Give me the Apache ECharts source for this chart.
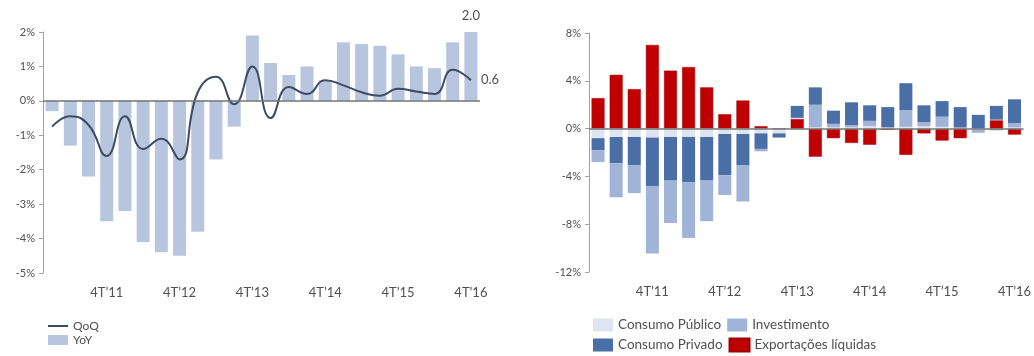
<!DOCTYPE html>
<html>
<head>
<meta charset="utf-8">
<title>PIB - variação e contributos</title>
<script src="https://cdn.jsdelivr.net/npm/echarts@6/dist/echarts.min.js"></script>
<style>
  html, body { margin: 0; padding: 0; background: #fff; }
  #chart { width: 1034px; height: 356px; }
</style>
</head>
<body>
<div id="chart"></div>
<script>
// trimestres
var quarters = ['1T’11', '2T’11', '3T’11', '4T’11', '1T’12', '2T’12', '3T’12', '4T’12',
  '1T’13', '2T’13', '3T’13', '4T’13', '1T’14', '2T’14', '3T’14', '4T’14',
  '1T’15', '2T’15', '3T’15', '4T’15', '1T’16', '2T’16', '3T’16', '4T’16'];

// painel esquerdo: variação do PIB (%)
var yoy = [-0.3, -1.3, -2.2, -3.5, -3.2, -4.1, -4.4, -4.5, -3.8, -1.7, -0.75, 1.9,
  1.1, 0.75, 1.0, 0.6, 1.7, 1.65, 1.6, 1.35, 1.0, 0.95, 1.7, 2.0];
var qoq = [-0.75, -0.45, -0.7, -1.6, -0.45, -1.4, -1.1, -1.7, 0.25, 0.7, -0.1, 1.0,
  -0.5, 0.4, 0.2, 0.6, 0.45, 0.25, 0.15, 0.35, 0.27, 0.2, 0.9, 0.6];

// painel direito: contributos para a variação homóloga (p.p.)
var consumoPublico = [-0.8, -0.7, -0.7, -0.75, -0.7, -0.7, -0.7, -0.45, -0.45, -0.4, -0.4, 0.1,
  0.1, 0.1, 0.1, 0.2, 0.1, 0.15, 0.2, 0.15, 0.05, -0.1, 0.05, 0.1];
var consumoPrivado = [-1.0, -2.2, -2.35, -4.05, -3.65, -3.8, -3.65, -3.45, -2.6, -1.3, -0.35, 1.0,
  1.45, 1.1, 1.9, 1.3, 1.7, 2.25, 1.4, 1.3, 1.7, 1.1, 1.15, 2.0];
var investimento = [-1.0, -2.85, -2.35, -5.65, -3.55, -4.65, -3.4, -1.65, -3.05, -0.2, 0, 0,
  1.9, 0.3, 0.2, 0.45, 0, 1.4, 0.35, 0.85, 0.05, -0.25, -0.15, 0.35];
var exportacoes = [2.55, 4.5, 3.3, 7.0, 4.85, 5.15, 3.45, 1.2, 2.35, 0.2, 0, 0.8,
  -2.35, -0.8, -1.2, -1.35, -0.1, -2.2, -0.4, -1.0, -0.8, 0.05, 0.7, -0.5];

var font = 'Lato';
var txt = '#505050';
var chart = echarts.init(document.getElementById('chart'));

function yAxisOf(gridIndex, min, max, step) {
  return {
    type: 'value', gridIndex: gridIndex, min: min, max: max, interval: step,
    axisLine: { show: true, lineStyle: { color: '#a0a0a0', width: 1 } },
    axisTick: { show: true, length: 4, lineStyle: { color: '#a0a0a0' } },
    splitLine: { show: false },
    axisLabel: { formatter: '{value}%', color: txt, fontFamily: font, fontSize: 11, margin: 8 }
  };
}

function xAxisOf(gridIndex) {
  return {
    type: 'category', gridIndex: gridIndex, data: quarters,
    axisLine: { show: false, onZero: false },
    axisTick: { show: false },
    axisLabel: {
      interval: function (i, v) { return v.indexOf('4T') === 0; },
      color: txt, fontFamily: font, fontSize: 13, margin: 13
    }
  };
}

var zeroLine = {
  silent: true, symbol: 'none', label: { show: false },
  lineStyle: { color: '#757575', width: 1.5, type: 'solid' },
  data: [{ yAxis: 0 }]
};

function oneDecimal(p) { return p.value.toFixed(1); }

// só a última barra tem rótulo
var yoyData = yoy.map(function (v, i) {
  if (i !== yoy.length - 1) return v;
  return { value: v, label: { show: true, position: 'top', distance: 10, formatter: oneDecimal } };
});

// investimento: positivo fica por baixo do consumo privado, negativo por fora
var invPos = investimento.map(function (v) { return v > 0 ? v : 0; });
var invNeg = investimento.map(function (v) { return v < 0 ? v : 0; });

var valueLabel = { color: txt, fontFamily: font, fontSize: 13 };

var option = {
  animation: false,
  textStyle: { fontFamily: font },
  grid: [
    { left: 43, right: 554, top: 32, bottom: 83 },
    { left: 589, right: 8, top: 33, bottom: 84 }
  ],
  xAxis: [xAxisOf(0), xAxisOf(1)],
  yAxis: [yAxisOf(0, -5, 2, 1), yAxisOf(1, -12, 8, 4)],
  legend: [
    {
      left: 48, top: 320, padding: 0, orient: 'vertical',
      itemWidth: 20, itemHeight: 10, itemGap: 2,
      textStyle: { color: txt, fontFamily: font, fontSize: 12 },
      data: [{ name: 'QoQ', icon: 'path://M0,4h20v2h-20z' }, { name: 'YoY', icon: 'rect' }]
    },
    {
      left: 593, top: 318, padding: 0, width: 300,
      itemWidth: 20, itemHeight: 13, itemGap: 6,
      icon: 'rect',
      textStyle: { color: txt, fontFamily: font, fontSize: 13.5, width: 106 },
      data: ['Consumo Público', 'Investimento', 'Consumo Privado', 'Exportações líquidas']
    }
  ],
  series: [
    {
      name: 'YoY', type: 'bar', xAxisIndex: 0, yAxisIndex: 0, barWidth: 13,
      itemStyle: { color: '#b7c6de' },
      label: valueLabel,
      data: yoyData,
      markLine: zeroLine
    },
    {
      name: 'QoQ', type: 'line', xAxisIndex: 0, yAxisIndex: 0, smooth: 0.5,
      symbol: 'none', showSymbol: false,
      lineStyle: { color: '#3c4b62', width: 2 },
      itemStyle: { color: '#3c4b62' },
      endLabel: { show: true, distance: 10, formatter: oneDecimal,
        color: txt, fontFamily: font, fontSize: 13 },
      data: qoq
    },
    {
      name: 'Exportações líquidas', type: 'bar', stack: 'contrib', xAxisIndex: 1, yAxisIndex: 1,
      barWidth: 13, itemStyle: { color: '#c00000', borderColor: '#a10000', borderWidth: 0.5 },
      data: exportacoes, markLine: zeroLine
    },
    {
      name: 'Consumo Público', type: 'bar', stack: 'contrib', xAxisIndex: 1, yAxisIndex: 1,
      barWidth: 13, itemStyle: { color: '#dfe5f0' }, data: consumoPublico
    },
    {
      name: 'Investimento', type: 'bar', stack: 'contrib', xAxisIndex: 1, yAxisIndex: 1,
      barWidth: 13, itemStyle: { color: '#9fb4d7' }, data: invPos
    },
    {
      name: 'Consumo Privado', type: 'bar', stack: 'contrib', xAxisIndex: 1, yAxisIndex: 1,
      barWidth: 13, itemStyle: { color: '#4a6fa6' }, data: consumoPrivado
    },
    {
      name: 'Investimento', type: 'bar', stack: 'contrib', xAxisIndex: 1, yAxisIndex: 1,
      barWidth: 13, itemStyle: { color: '#9fb4d7' }, data: invNeg
    }
  ]
};

chart.setOption(option);
window.addEventListener('resize', chart.resize);
</script>
</body>
</html>
